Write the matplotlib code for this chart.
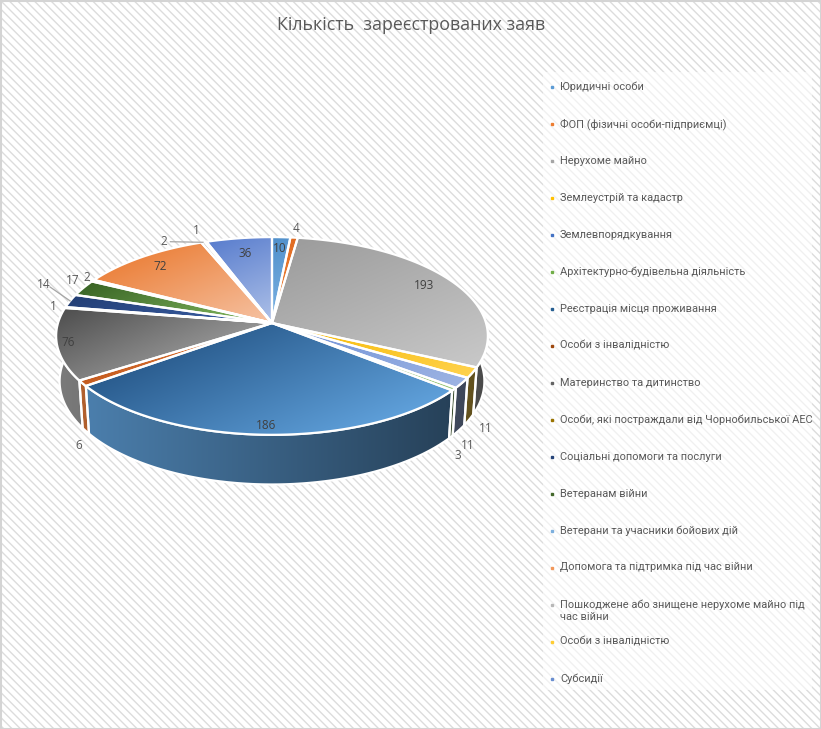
import numpy as np
import matplotlib
matplotlib.use("Agg")
import matplotlib.pyplot as plt
from matplotlib.patches import Polygon, Rectangle
from matplotlib.colors import to_rgb

# ---------------- data ----------------
title = "Кількість  зареєстрованих заяв"
categories = [
    "Юридичні особи",
    "ФОП (фізичні особи-підприємці)",
    "Нерухоме майно",
    "Землеустрій та кадастр",
    "Землевпорядкування",
    "Архітектурно-будівельна діяльність",
    "Реєстрація місця проживання",
    "Особи з інвалідністю",
    "Материнство та дитинство",
    "Особи, які постраждали від Чорнобильської АЕС",
    "Соціальні допомоги та послуги",
    "Ветеранам війни",
    "Ветерани та учасники бойових дій",
    "Допомога та підтримка під час війни",
    "Пошкоджене або знищене нерухоме майно під\nчас війни",
    "Особи з інвалідністю",
    "Субсидії",
]
values = [10, 4, 193, 11, 11, 3, 186, 6, 76, 1, 14, 17, 2, 72, 2, 1, 36]

# ---------------- style ----------------
base_colors = ['#5B9BD5', '#ED7D31', '#A5A5A5', '#FFC000', '#4472C4', '#70AD47',
               '#255E91', '#9E480E', '#636363', '#997300', '#264478', '#43682B',
               '#7CAFDD', '#F1975A', '#B7B7B7', '#FFCD33', '#698ED0']
top_dark = ['#4F8FCB', '#E06A20', '#9C9C9C', '#F5B800', '#6E8FD6', '#62A03C',
            '#2A5C8E', '#C0561A', '#4F4F4F', '#8A6800', '#243F75', '#3A6526',
            '#6FA4D6', '#EC8440', '#B0B0B0', '#FFC820', '#5A7ECE']
top_light = ['#7DB3E3', '#F08A45', '#C8C8C8', '#FFD24D', '#9DB4E3', '#A0CC80',
             '#5FA0DA', '#E0793A', '#959595', '#B08A20', '#3C62AA', '#86BD62',
             '#A5C8EA', '#F6C3A4', '#D5D5D5', '#FFE080', '#AEC1E8']
# label placement: (radius, height, angle offset)
lbl_r = [0.85, 1.12, 0.85, 1.08, 1.05, 1.04, 0.93, 1.04, 0.95, 1.06, 1.20, 1.09, 1.05, 0.85, 1.10, 1.16, 0.80]
lbl_z = [0, 0, 0, -0.26, -0.30, -0.32, 0, -0.30, 0, 0, 0, 0, 0, 0, 0, 0, 0]
lbl_dt = [0, 0, 0, 0, 0, 0, 0, 0, 0, 0, 7, 3, 1, 0, -10, 0, 0]
leader = [False] * 10 + [True] + [False] * 3 + [True] + [False] * 2

TXT = '#595959'
FONT = 'Open Sans'
LFONT = 'Roboto'

W, H = 821, 729
CX, CY, R = 272, 323, 214
PHI = np.radians(27.0)
SIN, COS = np.sin(PHI), np.cos(PHI)
DIST = 6.8
THICK = 0.24

plt.rcParams['hatch.linewidth'] = 1.0
fig = plt.figure(figsize=(W / 100, H / 100), dpi=100)
ax = fig.add_axes([0, 0, 1, 1])
ax.set_xlim(0, W)
ax.set_ylim(H, 0)
ax.axis('off')

# background with diagonal pattern
ax.add_patch(Rectangle((0, 0), W, H, facecolor='white', edgecolor='#dcdcdc',
                       hatch='\\\\\\\\', lw=0, zorder=0))
ax.add_patch(Rectangle((0.5, 0.5), W - 1, H - 1, facecolor='none',
                       edgecolor='#d4d4d4', lw=1.5, zorder=0.5))


def proj(theta, r, z):
    t = np.radians(theta)
    X = r * np.sin(t)
    Y = r * np.cos(t)
    d = -Y * COS + z * SIN
    s = DIST / (DIST - d)
    return np.column_stack([CX + R * X * s, CY - R * (Y * SIN + z * COS) * s])


def grad_fill(pts, c0, c1, zorder, dvec=None, wall=False):
    poly = Polygon(pts, closed=True, facecolor='none', edgecolor='none')
    ax.add_patch(poly)
    x0, y0 = pts.min(0)
    x1, y1 = pts.max(0)
    nx = max(int(x1 - x0) + 2, 2)
    ny = max(int(y1 - y0) + 2, 2)
    XX, YY = np.meshgrid(np.linspace(x0, x1, nx), np.linspace(y0, y1, ny))
    c0 = np.array(to_rgb(c0))
    c1 = np.array(to_rgb(c1))
    if wall:
        t = np.clip((XX - (CX - R)) / (2 * R), 0, 1)
        f = 0.82 - 0.45 * t
        img = c1[None, None, :] * f[..., None]
    else:
        p = XX * dvec[0] + YY * dvec[1]
        pp = pts[:, 0] * dvec[0] + pts[:, 1] * dvec[1]
        t = np.clip((p - pp.min()) / (pp.max() - pp.min() + 1e-9), 0, 1)
        img = c0[None, None, :] * (1 - t[..., None]) + c1[None, None, :] * t[..., None]
    im = ax.imshow(np.clip(img, 0, 1), extent=(x0, x1, y1, y0), origin='upper',
                   interpolation='bilinear', aspect='auto', zorder=zorder)
    im.set_clip_path(poly)
    ax.add_patch(Polygon(pts, closed=True, facecolor='none', edgecolor='white',
                         lw=1.6, zorder=zorder + 0.1, joinstyle='round'))


total = float(sum(values))
cum = np.concatenate([[0], np.cumsum(values)]) / total * 360.0

# walls (front part of the cylinder)
for i in range(len(values)):
    a0, a1 = max(cum[i], 80), min(cum[i + 1], 280)
    if a1 <= a0:
        continue
    th = np.linspace(a0, a1, max(int((a1 - a0) * 2), 2))
    top = proj(th, 1.0, 0.0)
    bot = proj(th[::-1], 1.0, -THICK)
    grad_fill(np.vstack([top, bot]), top_dark[i], top_light[i], 2, wall=True)

# top faces
for i in range(len(values)):
    a0, a1 = cum[i], cum[i + 1]
    th = np.linspace(a0, a1, max(int((a1 - a0) * 2), 2))
    pts = np.vstack([proj(np.array([0.0]), 0.0, 0.0), proj(th, 1.0, 0.0)])
    grad_fill(pts, top_dark[i], top_light[i], 3, dvec=(0.45, 1.0))

# data labels
for i, v in enumerate(values):
    mid = (cum[i] + cum[i + 1]) / 2
    lx, ly = proj(np.array([mid + lbl_dt[i]]), lbl_r[i], lbl_z[i])[0]
    inside = lbl_r[i] < 1.0
    ax.text(lx, ly, str(v), ha='center', va='center', fontsize=8.5,
            color='#404040' if inside else TXT, family=FONT, zorder=10)
    if leader[i]:
        px, py = proj(np.array([mid]), 1.0, 0.0)[0]
        dx, dy = px - lx, py - ly
        n = np.hypot(dx, dy)
        sx, sy = lx + dx / n * 7, ly + dy / n * 5
        ax.plot([sx, px], [sy, py], color='#a6a6a6', lw=0.9, zorder=9)

# title
ax.text(411, 25, title, ha='center', va='center', fontsize=12.8, color=TXT,
        family=FONT, zorder=10)

# legend
ax.add_patch(Rectangle((543, 72), 269, 618, facecolor='white', alpha=0.6,
                       edgecolor='none', zorder=5))
for i, lab in enumerate(categories):
    yy = 87 + i * 37.0
    ax.plot([552], [yy], marker='s', markersize=1.8, color=base_colors[i],
            linestyle='none', zorder=6)
    ax.text(560, yy - 5.5, lab, ha='left', va='top', fontsize=7.9, color=TXT,
            family=LFONT, linespacing=1.25, zorder=6)

fig.savefig('out.png', dpi=100)
